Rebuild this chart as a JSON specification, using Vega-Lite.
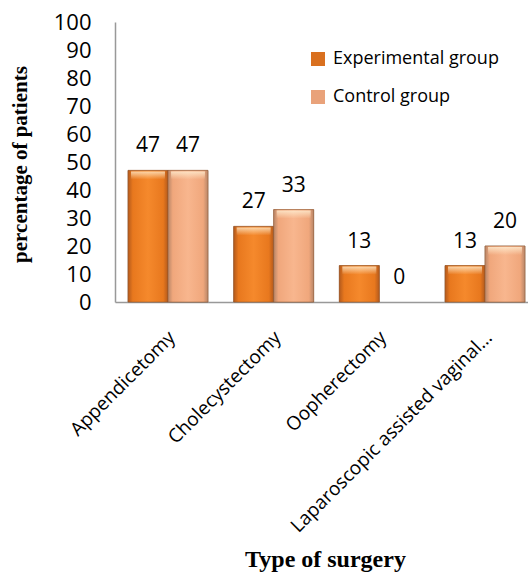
{
  "$schema": "https://vega.github.io/schema/vega-lite/v6.json",
  "autosize": {"type": "none"},
  "padding": {"left": 115, "top": 22, "right": 0, "bottom": 270},
  "width": 413,
  "height": 280,
  "background": "white",
  "config": {
    "view": {"stroke": null},
    "font": "Open Sans"
  },
  "data": {
    "values": [
      {"surgery": "Appendicetomy", "group": "Experimental group", "percent": 47},
      {"surgery": "Appendicetomy", "group": "Control group", "percent": 47},
      {"surgery": "Cholecystectomy", "group": "Experimental group", "percent": 27},
      {"surgery": "Cholecystectomy", "group": "Control group", "percent": 33},
      {"surgery": "Oopherectomy", "group": "Experimental group", "percent": 13},
      {"surgery": "Oopherectomy", "group": "Control group", "percent": 0},
      {"surgery": "Laparoscopic assisted vaginal hysterectomy", "group": "Experimental group", "percent": 13},
      {"surgery": "Laparoscopic assisted vaginal hysterectomy", "group": "Control group", "percent": 20}
    ]
  },
  "encoding": {
    "x": {
      "field": "surgery",
      "type": "nominal",
      "sort": null,
      "scale": {"range": [0, 423], "paddingInner": 0.243, "paddingOuter": 0.123},
      "axis": {
        "title": "Type of surgery",
        "titleFont": "Liberation Serif",
        "titleFontWeight": "bold",
        "titleFontSize": 24,
        "titleColor": "black",
        "titleX": 210,
        "titleY": 257,
        "titleBaseline": "middle",
        "labelAngle": -45,
        "labelAlign": "right",
        "labelBaseline": "middle",
        "labelFontSize": 19,
        "labelColor": "black",
        "labelPadding": 32,
        "labelOffset": 4,
        "labelLimit": 300,
        "labelExpr": "datum.label == 'Laparoscopic assisted vaginal hysterectomy' ? 'Laparoscopic assisted vaginal…' : datum.label",
        "ticks": false,
        "domainColor": "#999999",
        "domainWidth": 1.5
      }
    },
    "xOffset": {
      "field": "group",
      "type": "nominal",
      "sort": ["Experimental group", "Control group"],
      "scale": {"domain": ["Experimental group", "Control group"], "paddingInner": 0, "paddingOuter": 0}
    },
    "y": {
      "field": "percent",
      "type": "quantitative",
      "scale": {"domain": [0, 100], "nice": false},
      "axis": {
        "title": "percentage of patients",
        "titleFont": "Liberation Serif",
        "titleFontWeight": "bold",
        "titleFontSize": 21,
        "titleColor": "black",
        "titleAngle": -90,
        "titleX": -95,
        "titleY": 142,
        "titleAlign": "center",
        "titleBaseline": "middle",
        "values": [0, 10, 20, 30, 40, 50, 60, 70, 80, 90, 100],
        "labelFontSize": 22,
        "labelColor": "black",
        "labelPadding": 24,
        "ticks": false,
        "grid": false,
        "domainColor": "#999999",
        "domainWidth": 1.5
      }
    }
  },
  "layer": [
    {
      "mark": {"type": "bar", "stroke": "#8a5530", "strokeWidth": 0.8},
      "encoding": {
        "strokeOpacity": {"condition": {"test": "datum.percent == 0", "value": 0}, "value": 0.6},
        "color": {
          "field": "group",
          "type": "nominal",
          "sort": ["Experimental group", "Control group"],
          "scale": {
            "domain": ["Experimental group", "Control group"],
            "range": ["#d9701f", "#e9a27a"]
          },
          "legend": {
            "title": null,
            "orient": "none",
            "legendX": 194,
            "legendY": 28,
            "symbolType": "square",
            "symbolSize": 196,
            "symbolStrokeWidth": 0,
            "symbolOpacity": 1,
            "labelFontSize": 18,
            "labelColor": "black",
            "labelOffset": 6,
            "labelLimit": 300,
            "rowPadding": 20
          }
        }
      }
    },
    {
      "transform": [{"filter": "datum.group == 'Experimental group'"}],
      "mark": {
        "type": "bar",
        "stroke": "#8a5530", "strokeWidth": 0.8, "strokeOpacity": 0.6,
        "fill": {"gradient": "linear", "x1": 0, "y1": 0, "x2": 1, "y2": 0,
          "stops": [
            {"offset": 0, "color": "#b45a1c"},
            {"offset": 0.12, "color": "#e8781e"},
            {"offset": 0.5, "color": "#f5892c"},
            {"offset": 0.88, "color": "#e8781e"},
            {"offset": 1, "color": "#b45a1c"}
          ]}
      }
    },
    {
      "transform": [{"filter": "datum.group == 'Control group' && datum.percent > 0"}],
      "mark": {
        "type": "bar",
        "stroke": "#8a5530", "strokeWidth": 0.8, "strokeOpacity": 0.6,
        "fill": {"gradient": "linear", "x1": 0, "y1": 0, "x2": 1, "y2": 0,
          "stops": [
            {"offset": 0, "color": "#b88668"},
            {"offset": 0.12, "color": "#f0a77c"},
            {"offset": 0.5, "color": "#f8b68e"},
            {"offset": 0.88, "color": "#f0a77c"},
            {"offset": 1, "color": "#b88668"}
          ]}
      }
    },
    {
      "transform": [{"filter": "datum.percent > 0"}],
      "mark": {
        "type": "tick",
        "orient": "horizontal",
        "size": 34,
        "thickness": 8,
        "yOffset": 5,
        "fill": {"gradient": "linear", "x1": 0, "y1": 0, "x2": 0, "y2": 1,
          "stops": [
            {"offset": 0, "color": "rgba(255,242,215,0.75)"},
            {"offset": 1, "color": "rgba(255,242,215,0)"}
          ]},
        "opacity": 1
      }
    },
    {
      "mark": {"type": "text", "baseline": "alphabetic", "dy": -18, "fontSize": 21, "color": "black"},
      "encoding": {
        "text": {"field": "percent", "type": "quantitative"}
      }
    }
  ]
}
